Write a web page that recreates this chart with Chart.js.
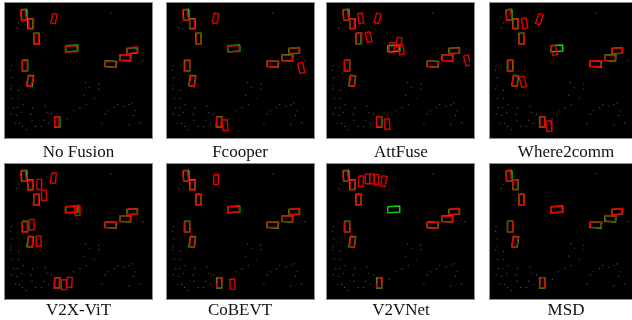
<!DOCTYPE html>
<html>
<head>
<meta charset="utf-8">
<script src="https://cdn.jsdelivr.net/npm/chart.js@4.4.1/dist/chart.umd.min.js"></script>
<style>
  html, body { margin: 0; padding: 0; background: #fff; overflow: hidden; }
  #page { position: relative; width: 632px; height: 320px; }
  .panel { position: absolute; width: 147px; height: 135px; background: #000; outline: 1px solid #8c8c8c; }
  .panel canvas { display: block; }
  .label { position: absolute; width: 160px; text-align: center; font-family: "Liberation Serif", "DejaVu Serif", serif;
           font-size: 17px; line-height: 17px; color: #111; }
</style>
</head>
<body>
<div id="page"></div>
<script>
// panel titles, in reading order
const methods = ['No Fusion', 'Fcooper', 'AttFuse', 'Where2comm', 'V2X-ViT', 'CoBEVT', 'V2VNet', 'MSD'];

// boxes are [centerX, centerY, width, length, angleDeg] in BEV pixels of a panel
const groundTruth = [
  [15.8, 8.3, 5.5, 11.3, -5], [22.6, 17.6, 5.6, 10.5, 0], [29, 33.5, 5.6, 11.5, 0],
  [66.3, 44, 12.5, 6.5, -4], [17, 62.3, 5.6, 11.3, 0], [22.5, 78.5, 5.6, 11.3, 8],
  [51, 122, 5.5, 11, 0], [107.6, 60.5, 12, 6.2, 4], [123, 54, 11.5, 6.2, 3], [130.2, 46.5, 11, 6, -5]
];

const noFusionPred = [
  [15.2, 8.8, 5.3, 11, -8], [23.2, 18, 5.4, 10.3, 2], [28.8, 33.8, 5.4, 11.3, 3], [65.8, 44.5, 12.3, 6.3, -2],
  [16.6, 62.8, 5.4, 11, 0], [22, 78.8, 5.4, 11, 12], [50.6, 122, 5.2, 10.8, 3], [107.2, 60.8, 11.6, 6, 2],
  [122.6, 53.6, 11.3, 6, 0], [130.6, 46, 10.6, 5.8, -8], [47.7, 12.3, 4.8, 10.3, 12]
];
const fcooperPred = [
  [15.2, 8.6, 5.3, 11, -6], [22.2, 18.2, 5.2, 10.2, 0], [29.3, 33.6, 5.4, 11.2, 4], [66, 44.4, 12.2, 6.2, -2],
  [17.2, 62.6, 5.4, 11, 2], [22.8, 78.8, 5.4, 11, 10], [50.6, 122.3, 5.3, 10.8, 4], [107.4, 60.5, 11.6, 6, 3],
  [122.8, 54.3, 11.2, 6, 2], [130.5, 46.2, 10.6, 5.8, -3], [47.2, 12, 5, 10.5, 12], [57.3, 125.7, 5.3, 11.3, -6],
  [137.8, 64.8, 5.3, 11, -12]
];
const attFusePred = [
  [15.5, 8.5, 5.3, 11, -6], [22.2, 17.8, 5.2, 10.2, 2], [29.5, 33.2, 5.4, 11.2, -3], [64.2, 43.3, 5.2, 10.2, 0],
  [71.8, 37.5, 5.2, 10.2, 6], [74.2, 45.3, 5.2, 10.5, -10], [17.2, 62.2, 5.4, 11, 0], [22.8, 78.5, 5.4, 11, 6],
  [50.8, 122, 5.3, 10.8, 0], [107.5, 60.7, 11.6, 6, 6], [123.2, 54, 11.2, 6, 0], [130.4, 46.3, 10.6, 5.8, 0],
  [31.3, 12, 5, 10.5, -8], [49.3, 12, 5, 10.5, 15], [39.7, 32, 5, 10.5, -12], [59.3, 124.5, 5.3, 11, -5],
  [144, 56.8, 5.2, 10.8, -15]
];
const where2commPred = [
  [15.6, 8.5, 5.3, 11, -5], [22.8, 18, 5.3, 10.3, 3], [29.2, 33.8, 5.4, 11.3, 0], [63.3, 45.8, 5.2, 10.3, -15],
  [17.5, 62.4, 5.4, 11, 0], [22.3, 78.5, 5.2, 11, 6], [51.2, 122.3, 5.2, 10.8, 0], [107.5, 60.2, 11.6, 6, 0],
  [122.8, 54.5, 11.2, 6, 5], [130.4, 46.5, 10.6, 5.8, -3], [32.3, 17.2, 5, 10.8, -10], [48, 13, 5, 11, 20],
  [30.5, 79.5, 5.2, 11, -15], [58.2, 126.7, 5.2, 11, -5]
];
const v2xVitPred = [
  [15.2, 8.6, 5.3, 11, -5], [22.7, 18.2, 5.3, 10.3, 0], [28.8, 33.6, 5.4, 11.2, 4], [65.6, 44.2, 12.3, 6.2, 0],
  [16.6, 62.7, 5.4, 11, 0], [22.4, 78.7, 5.4, 11, 3], [50.6, 122.2, 5.2, 10.8, 5], [107.3, 60.6, 11.6, 6, 3],
  [122.6, 53.8, 11.3, 6, 0], [130.4, 46.3, 10.6, 5.8, 0], [32, 17.5, 5, 10.8, 0], [47, 10.8, 5, 10.8, 8],
  [37, 29.3, 5, 10.8, 0], [72, 45.2, 5.2, 10.8, -5], [24, 60.2, 5.2, 10.8, 0], [31.3, 77.7, 5.2, 10.8, 0],
  [58, 124, 5.2, 10.5, -5], [64, 121.5, 5.2, 10.5, 5]
];
const coBevtPred = [
  [15.4, 8.4, 5.3, 11, -5], [22.8, 18.3, 5.2, 10.2, 0], [29.2, 33.8, 5.4, 11.2, 0], [66.2, 44, 12, 6, -2],
  [17.3, 62.5, 5.3, 11, 0], [22.7, 78.8, 5.3, 11, 3], [51.2, 122, 5.2, 10.8, 5], [107.4, 60.2, 11.6, 6, 0],
  [122.8, 54, 11.2, 6, 0], [130.6, 46.3, 10.6, 5.8, -3], [47.7, 12.3, 5, 10.5, 3], [65, 123.5, 5.2, 10.8, -3]
];
const v2vNetPred = [
  [15.4, 8.6, 5.3, 11, -4], [22.8, 18, 5.2, 10.2, 0], [29.3, 33.7, 5.4, 11.3, 2], [17.3, 62.5, 5.4, 11, 0],
  [22.8, 78.8, 5.3, 11, 6], [51.3, 122, 5.2, 10.8, 5], [107.3, 60.8, 11.6, 6, 2], [122.8, 54.2, 11.2, 6, 2],
  [130.5, 46.2, 10.6, 5.8, -2], [31.7, 14, 5, 11, 5], [38.7, 11.5, 4.8, 10.5, 0], [43.3, 11.5, 4.8, 10.5, 0],
  [48, 12.3, 4.8, 10.5, 0], [55.7, 14, 5, 11, 10]
];
const msdPred = [
  [15.5, 8.5, 5.3, 11, -4], [22.4, 17.8, 5.4, 10.3, 2], [29.2, 33.4, 5.4, 11.3, 0], [66, 44.2, 12.2, 6.3, -2],
  [17.2, 62.2, 5.4, 11, 0], [22.3, 78.6, 5.4, 11, 8], [51.2, 121.8, 5.3, 10.8, 2], [107.8, 60.2, 11.7, 6, 2],
  [123.2, 53.7, 11.2, 6, 3], [130.5, 46.3, 10.7, 5.8, -4]
];
const predictions = [noFusionPred, fcooperPred, attFusePred, where2commPred, v2xVitPred, coBevtPred, v2vNetPred, msdPred];

// sparse LiDAR returns, same scene in every panel
const cloudX = [107.7, 2.3, 1.7, 3, 2.3, 1.7, 3.7, 5, 2.3, 6.7, 10, 8.3, 10, 10, 9, 8.3, 11, 25, 23.3, 24.3, 28.3,
  38.3, 40, 36.7, 34.3, 41.7, 81, 85, 79, 95, 95, 90, 81.7, 75, 101.7, 105, 111.7, 115, 121.7, 126.7, 130, 133.3,
  138.3, 141.7, 131.7, 126.7, 98.3, 61.7, 68.3, 45, 15, 13.3, 14.3, 18.3];
const cloudY = [6.3, 62, 67, 75.3, 83.7, 87, 97, 107, 113.7, 123.7, 17, 22, 88.7, 97, 107, 115.3, 123.7, 107, 113.7,
  120.3, 127, 105.3, 112, 120.3, 127, 123.7, 80.3, 85.3, 93.7, 82, 87, 97, 103.7, 107, 113.7, 110.3, 107, 103.7,
  105.3, 103.7, 102, 110.3, 123, 57, 115.3, 125.3, 123.7, 118.7, 110.3, 113.7, 103.7, 112, 127, 130.3];

const panelLeft = [5, 167, 327, 490];
const panelTop = [3, 164];
const labelCenter = [78.5, 240, 401, 566];
const labelTop = [142.5, 300.5];

/** corners of a rotated box, closed back to the first one */
function boxOutline(b) {
  const [cx, cy, w, l, deg] = b;
  const a = deg * Math.PI / 180;
  const c = Math.cos(a), s = Math.sin(a);
  const pts = [[-w / 2, -l / 2], [w / 2, -l / 2], [w / 2, l / 2], [-w / 2, l / 2], [-w / 2, -l / 2]];
  return pts.map(([dx, dy]) => ({ x: cx + dx * c - dy * s, y: cy + dx * s + dy * c }));
}

// higher order is drawn first, so predictions (order 0) end up on top
function boxDataset(b, color, order) {
  return {
    type: 'line', data: boxOutline(b), borderColor: color, borderWidth: 1.4, order: order,
    pointRadius: 0, fill: false, tension: 0, showLine: true
  };
}

function renderPanel(i) {
  const page = document.getElementById('page');
  const col = i % 4, row = Math.floor(i / 4);

  const wrap = document.createElement('div');
  wrap.className = 'panel';
  wrap.style.left = panelLeft[col] + 'px';
  wrap.style.top = panelTop[row] + 'px';
  const canvas = document.createElement('canvas');
  canvas.width = 147; canvas.height = 135;
  wrap.appendChild(canvas);
  page.appendChild(wrap);

  const label = document.createElement('div');
  label.className = 'label';
  label.textContent = methods[i];
  label.style.left = (labelCenter[col] - 80) + 'px';
  label.style.top = labelTop[row] + 'px';
  page.appendChild(label);

  const datasets = [{
    type: 'scatter', order: 2,
    data: cloudX.map((x, k) => ({ x: x, y: cloudY[k] })),
    pointRadius: 0.6, pointBorderWidth: 0, backgroundColor: '#5a5a5a'
  }];
  groundTruth.forEach(b => datasets.push(boxDataset(b, '#10d010', 1)));
  predictions[i].forEach(b => datasets.push(boxDataset(b, '#e00000', 0)));

  new Chart(canvas, {
    type: 'scatter',
    data: { datasets: datasets },
    options: {
      responsive: false, animation: false, events: [],
      layout: { padding: 0 },
      plugins: { legend: { display: false }, tooltip: { enabled: false } },
      scales: {
        x: { type: 'linear', min: 0, max: 147, display: false },
        y: { type: 'linear', min: 0, max: 135, reverse: true, display: false }
      }
    }
  });
}

methods.forEach((m, i) => renderPanel(i));
</script>
</body>
</html>
